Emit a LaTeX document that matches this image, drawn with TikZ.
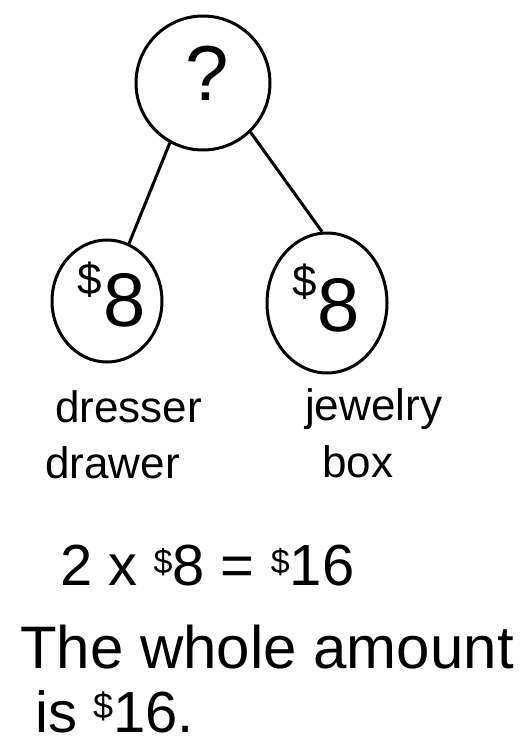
\documentclass[tikz,border=0pt]{standalone}
\usepackage{fontspec}
\setmainfont{Liberation Sans}
\usetikzlibrary{shapes.geometric}
\begin{document}
\begin{tikzpicture}[x=1pt,y=-1pt,
  ring/.style={draw, line width=3pt, inner sep=0pt},
  link/.style={line width=3pt},
  lbl/.style={anchor=base west, inner sep=0pt, font=\fontsize{44}{44}\selectfont},
  eq/.style={anchor=base west, inner sep=0pt, font=\fontsize{58}{58}\selectfont},
  money/.style={inner sep=0pt}]
\useasboundingbox (0,0) rectangle (528,744);
% circles
\node[ring, circle, minimum size=134pt] (whole) at (203,83) {};
\node[ring, ellipse, minimum width=110pt, minimum height=122pt] (left) at (107,301) {};
\node[ring, ellipse, minimum width=120pt, minimum height=140pt] (right) at (327,303) {};
% contents
\node[inner sep=0pt, font=\fontsize{78}{78}\selectfont] (q) at (207,73) {?};
\node[money, font=\fontsize{44}{44}\selectfont] (ld) at (90,280) {\$};
\node[money, font=\fontsize{76}{76}\selectfont] (l8) at (125,300) {8};
\node[money, font=\fontsize{44}{44}\selectfont] (rd) at (305,282) {\$};
\node[money, font=\fontsize{76}{76}\selectfont] (r8) at (339,305) {8};
% connectors
\draw[link] (whole.241) -- (left.69);
\draw[link] (whole.314) -- (right.94);
% labels
\node[lbl] (t1) at (55,422) {dresser};
\node[lbl] (t2) at (45,478) {drawer};
\node[lbl] (t3) at (305,420) {jewelry};
\node[lbl] (t4) at (322,477) {box};
% equation and sentence
\node[eq] (e1) at (60,585) {2 x \raisebox{12pt}{\fontsize{34}{34}\selectfont\$}8 = \raisebox{12pt}{\fontsize{34}{34}\selectfont\$}16};
\node[eq, font=\fontsize{60}{60}\selectfont] (e2) at (20,668) {The whole amount};
\node[eq, font=\fontsize{58}{58}\selectfont] (e3) at (35,732) {is \raisebox{14pt}{\fontsize{36}{36}\selectfont\$}16.};
\end{tikzpicture}
\end{document}
